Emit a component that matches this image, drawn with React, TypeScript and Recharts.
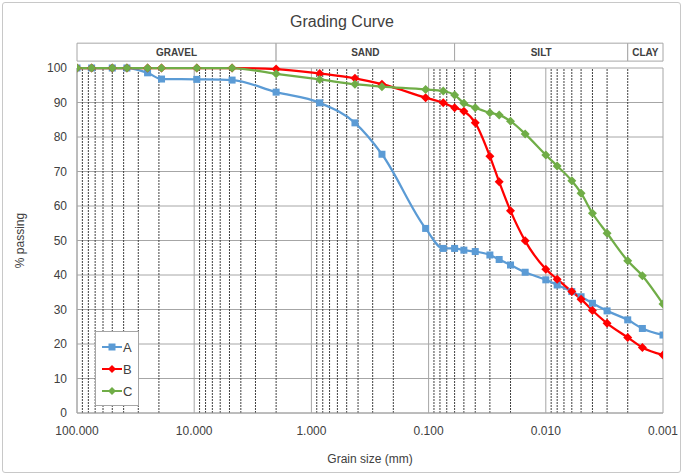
import React from "react";
import {
  LineChart, Line, XAxis, YAxis, ReferenceLine, ReferenceArea, Legend,
} from "recharts";

// grain sizes (mm) shared by all three samples
const sizes = [100, 75, 50, 37.5, 25, 19, 9.5, 4.75, 2, 0.85, 0.425, 0.25, 0.106, 0.075, 0.06, 0.05, 0.04, 0.03, 0.025, 0.02, 0.015, 0.01, 0.008, 0.006, 0.005, 0.004, 0.003, 0.002, 0.0015, 0.001];
const passA = [100, 100, 100, 100, 98.6, 96.8, 96.7, 96.5, 93.0, 89.9, 84.1, 75.0, 53.5, 47.7, 47.7, 47.2, 46.8, 45.8, 44.5, 42.9, 40.8, 38.6, 37.1, 35.2, 33.7, 31.8, 29.6, 27.0, 24.5, 22.6];
const passB = [100, 100, 100, 100, 100, 100, 100, 100, 99.7, 98.4, 97.0, 95.3, 91.4, 89.9, 88.5, 87.5, 84.1, 74.4, 67.0, 58.6, 49.9, 41.7, 38.8, 35.2, 33.0, 29.7, 26.0, 21.9, 19.0, 16.8];
const passC = [100, 100, 100, 100, 100, 100, 100, 100, 98.3, 96.7, 95.3, 94.6, 93.8, 93.3, 92.2, 89.8, 88.5, 87.0, 86.4, 84.6, 80.9, 74.8, 71.6, 67.3, 63.7, 57.9, 52.1, 44.1, 39.8, 31.6];

const xTicks = [100, 10, 1, 0.1, 0.01, 0.001];
const yTicks = [0, 10, 20, 30, 40, 50, 60, 70, 80, 90, 100];

// soil class bands along the top
const bandNames = ["GRAVEL", "SAND", "SILT", "CLAY"];
const bandEdges = [100, 2, 0.06, 0.002, 0.001];

const minorTicks: number[] = [];
[10, 1, 0.1, 0.01, 0.001].forEach((d) => {
  for (let m = 2; m <= 9; m++) minorTicks.push(+(d * m).toPrecision(3));
});

const data = sizes.map((s, i) => ({ size: s, A: passA[i], B: passB[i], C: passC[i] }));

const BLUE = "#5B9BD5";
const RED = "#FF0000";
const GREEN = "#70AD47";
const font = "'Liberation Sans', Arial, sans-serif";

const square = (color: string) => (p: any) => (
  <rect key={p.index} x={p.cx - 3.5} y={p.cy - 3.5} width={7} height={7} fill={color} />
);
const diamond = (color: string) => (p: any) => (
  <polygon
    key={p.index}
    points={`${p.cx},${p.cy - 4.5} ${p.cx + 4.5},${p.cy} ${p.cx},${p.cy + 4.5} ${p.cx - 4.5},${p.cy}`}
    fill={color}
  />
);

const series = [
  { key: "A", color: BLUE, dot: square(BLUE), sq: true },
  { key: "B", color: RED, dot: diamond(RED), sq: false },
  { key: "C", color: GREEN, dot: diamond(GREEN), sq: false },
];

function LegendBox() {
  return (
    <div style={{ border: "1px solid #a6a6a6", background: "#fff", padding: "4px 6px 3px 6px", fontFamily: font, fontSize: 13, color: "#404040" }}>
      {series.map((s) => (
        <div key={s.key} style={{ display: "flex", alignItems: "center", height: 22 }}>
          <svg width={20} height={10}>
            <line x1={0} y1={5} x2={20} y2={5} stroke={s.color} strokeWidth={2} />
            {s.sq ? (
              <rect x={6.5} y={1.5} width={7} height={7} fill={s.color} />
            ) : (
              <polygon points="10,1 14,5 10,9 6,5" fill={s.color} />
            )}
          </svg>
          <span style={{ marginLeft: 1 }}>{s.key}</span>
        </div>
      ))}
    </div>
  );
}

export default function App() {
  return (
    <div style={{ position: "fixed", left: 0, top: 0, width: 684, height: 475, background: "#fff" }}>
      <div style={{ position: "absolute", left: 2, top: 2, width: 677, height: 469, border: "1px solid #c8c8c8", borderRadius: 3 }} />
      <div style={{ position: "absolute", left: 0, top: 13, width: 684, textAlign: "center", fontFamily: font, fontSize: 16, color: "#404040" }}>
        Grading Curve
      </div>
      <LineChart width={684} height={475} data={data} margin={{ top: 68, right: 21, bottom: 0, left: 10 }} style={{ position: "absolute", left: 0, top: 0 }}>
        <XAxis
          dataKey="size"
          type="number"
          scale="log"
          domain={[0.001, 100]}
          reversed
          allowDataOverflow
          ticks={xTicks}
          tickFormatter={(v: number) => v.toFixed(3)}
          tick={{ fontSize: 12, fill: "#404040", fontFamily: font }}
          tickLine={false}
          tickSize={6}
          tickMargin={7}
          height={62}
          axisLine={{ stroke: "#a6a6a6" }}
          label={{ value: "Grain size (mm)", position: "insideBottom", offset: 12, fontSize: 12, fill: "#404040", fontFamily: font }}
        />
        <YAxis
          type="number"
          domain={[0, 100]}
          ticks={yTicks}
          tick={{ fontSize: 12, fill: "#404040", fontFamily: font }}
          tickLine={false}
          tickSize={6}
          tickMargin={4}
          width={67}
          axisLine={{ stroke: "#a6a6a6" }}
          label={{ value: "% passing", angle: -90, position: "insideLeft", offset: 10, fontSize: 12, fill: "#404040", fontFamily: font, style: { textAnchor: "middle" } }}
        />
        {yTicks.map((t) => (
          <ReferenceLine key={"h" + t} y={t} stroke="#a6a6a6" strokeWidth={1} />
        ))}
        {minorTicks.map((t) => (
          <ReferenceLine key={"m" + t} x={t} stroke="#404040" strokeWidth={1} strokeDasharray="2 1" />
        ))}
        {xTicks.map((t) => (
          <ReferenceLine key={"v" + t} x={t} stroke="#a6a6a6" strokeWidth={1} />
        ))}
        {bandNames.map((n, i) => (
          <ReferenceArea
            key={n}
            x1={bandEdges[i]}
            x2={bandEdges[i + 1]}
            y1={102}
            y2={107.2}
            ifOverflow="visible"
            fill="#fff"
            fillOpacity={1}
            stroke="#a6a6a6"
            label={{ value: n, position: "center", fontSize: 10, fontWeight: "bold", fill: "#404040", fontFamily: font }}
          />
        ))}
        {series.map((s) => (
          <Line
            key={s.key}
            dataKey={s.key}
            name={s.key}
            type="monotone"
            stroke={s.color}
            strokeWidth={2.25}
            dot={s.dot}
            activeDot={false}
            isAnimationActive={false}
          />
        ))}
        <Legend
          layout="vertical"
          align="center"
          verticalAlign="middle"
          wrapperStyle={{ left: 95, top: 331, width: "auto" }}
          content={() => <LegendBox />}
        />
      </LineChart>
    </div>
  );
}
